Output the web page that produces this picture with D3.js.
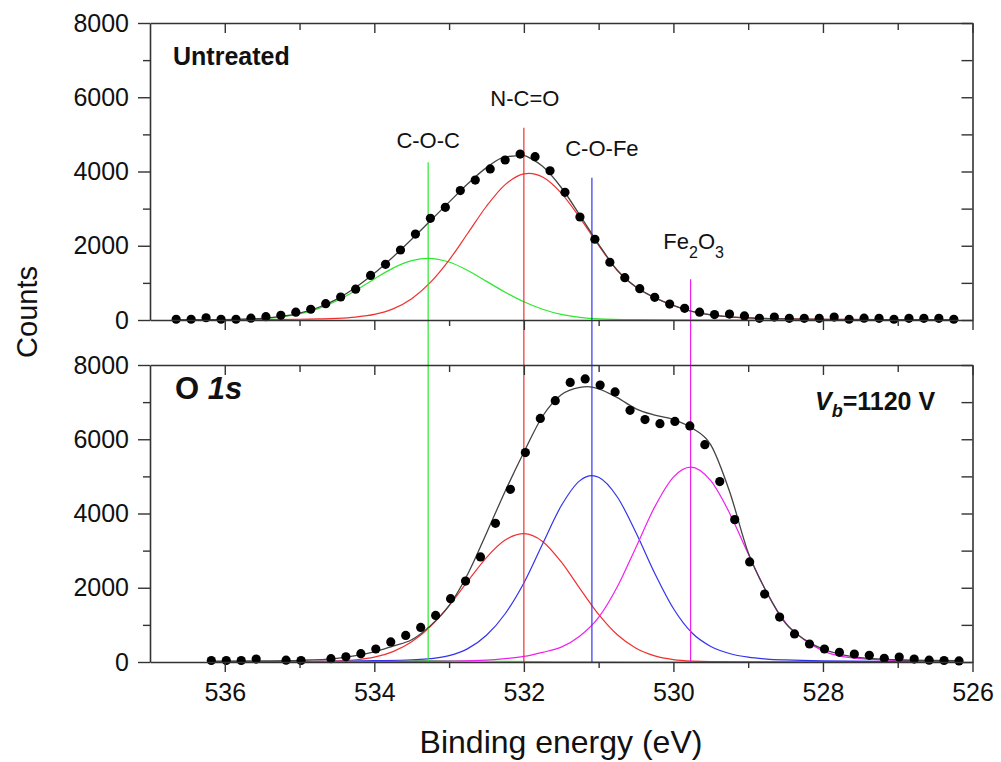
<!DOCTYPE html>
<html>
<head>
<meta charset="utf-8">
<title>O 1s XPS</title>
<style>
  body { margin: 0; background: #fff; }
  svg { display: block; font-family: "Liberation Sans", Arial, Helvetica, sans-serif; }
  .axis path, .axis line { stroke: #333; }
  .axis path { stroke-width: 1.6; }
  .axis line { stroke-width: 1.4; }
  .axis text { font-size: 25px; fill: #111; }
</style>
<script src="https://d3js.org/d3.v7.min.js"></script>
</head>
<body>
<script>
// ---- data ----
const topDotsEV = [536.65, 536.45, 536.25, 536.05, 535.85, 535.65, 535.45, 535.25, 535.05, 534.85,
  534.65, 534.45, 534.25, 534.05, 533.85, 533.65, 533.45, 533.25, 533.05, 532.85,
  532.65, 532.45, 532.25, 532.05, 531.85, 531.65, 531.45, 531.25, 531.05, 530.85,
  530.65, 530.45, 530.25, 530.05, 529.85, 529.65, 529.45, 529.25, 529.05, 528.85,
  528.65, 528.45, 528.25, 528.05, 527.85, 527.65, 527.45, 527.25, 527.05, 526.85,
  526.65, 526.45, 526.25];
const topDotsCounts = [20, 20, 60, 20, 20, 50, 90, 125, 210, 290,
  440, 620, 830, 1200, 1500, 1885, 2315, 2740, 3035, 3485,
  3770, 4070, 4310, 4470, 4400, 4020, 3440, 2775, 2175, 1555,
  1140, 845, 610, 430, 315, 210, 145, 160, 110, 45,
  80, 45, 45, 45, 80, 20, 50, 45, 20, 45,
  45, 45, 20];

const botDotsEV = [536.18, 535.98, 535.78, 535.58, 535.18, 534.98, 534.58, 534.38, 534.18, 533.98,
  533.78, 533.58, 533.38, 533.18, 532.98, 532.78, 532.58, 532.38, 532.18, 531.98,
  531.78, 531.58, 531.38, 531.18, 530.98, 530.78, 530.58, 530.38, 530.18, 529.98,
  529.78, 529.58, 529.38, 529.18, 528.98, 528.78, 528.58, 528.38, 528.18, 527.98,
  527.78, 527.58, 527.38, 527.18, 526.98, 526.78, 526.58, 526.38, 526.18];
const botDotsCounts = [40, 40, 40, 80, 50, 40, 90, 140, 225, 350,
  540, 715, 930, 1255, 1705, 2180, 2830, 3735, 4650, 5640,
  6560, 7040, 7530, 7625, 7460, 7275, 6780, 6530, 6420, 6480,
  6360, 5855, 4860, 3835, 2695, 1830, 1210, 755, 485, 350,
  260, 215, 180, 100, 135, 80, 50, 40, 30];

// fitted curves, [binding energy, counts]
const topCOC = [[536.65, 0], [536.0, 5], [535.5, 35], [535.0, 165], [534.75, 307], [534.5, 519],
  [534.25, 796], [534.0, 1107], [533.75, 1397], [533.5, 1598], [533.28, 1662], [533.0, 1561],
  [532.75, 1333], [532.5, 1040], [532.25, 750], [532.0, 490], [531.75, 290], [531.5, 150],
  [531.25, 70], [531.0, 30], [530.5, 8], [530.0, 2], [528.0, 0], [526.25, 0]];
const topNCO = [[536.65, 2], [536.0, 5], [535.5, 10], [535.0, 20], [534.75, 30], [534.5, 45],
  [534.25, 80], [534.0, 150], [533.75, 300], [533.5, 575], [533.25, 1013], [533.0, 1615],
  [532.75, 2336], [532.5, 3064], [532.25, 3646], [532.0, 3935], [531.93, 3950], [531.75, 3851],
  [531.5, 3419], [531.25, 2752], [531.0, 2010], [530.75, 1331], [530.5, 880], [530.25, 600],
  [530.0, 390], [529.75, 230], [529.5, 140], [529.25, 85], [529.0, 55], [528.5, 30],
  [528.0, 18], [527.0, 8], [526.25, 5]];
const topFit = [[536.65, 2], [536.0, 10], [535.5, 45], [535.0, 185], [534.75, 337], [534.5, 564],
  [534.25, 876], [534.0, 1257], [533.75, 1697], [533.5, 2173], [533.25, 2672], [533.0, 3176],
  [532.75, 3669], [532.5, 4104], [532.25, 4396], [532.0, 4425], [531.9, 4340], [531.75, 4141],
  [531.5, 3569], [531.25, 2822], [531.0, 2040], [530.75, 1340], [530.5, 888], [530.25, 602],
  [530.0, 392], [529.75, 230], [529.5, 140], [529.25, 85], [529.0, 55], [528.5, 30],
  [528.0, 18], [527.0, 8], [526.25, 5]];

const botCOC = [[536.18, 0], [535.0, 5], [534.25, 15], [533.3, 35], [532.5, 20], [531.5, 5],
  [530.5, 0], [526.18, 0]];
const botNCO = [[536.18, 10], [535.5, 10], [535.0, 15], [534.5, 30], [534.25, 60], [534.0, 129],
  [533.75, 279], [533.5, 544], [533.25, 957], [533.0, 1520], [532.75, 2177], [532.5, 2814],
  [532.25, 3283], [532.0, 3456], [531.75, 3248], [531.5, 2697], [531.25, 1978], [531.0, 1282],
  [530.75, 733], [530.5, 371], [530.25, 165], [530.0, 65], [529.75, 23], [529.5, 10],
  [529.0, 6], [528.0, 5], [526.18, 5]];
const botCOFe = [[536.18, 5], [535.0, 12], [534.5, 20], [534.0, 35], [533.5, 60], [533.25, 90],
  [533.0, 170], [532.75, 360], [532.5, 720], [532.25, 1300], [532.0, 2130], [531.75, 3180],
  [531.5, 4207], [531.25, 4886], [531.09, 5019], [531.0, 4976], [530.75, 4445], [530.5, 3482],
  [530.25, 2392], [530.0, 1441], [529.75, 780], [529.5, 420], [529.25, 230], [529.0, 130],
  [528.75, 80], [528.5, 55], [528.0, 30], [527.0, 15], [526.18, 10]];
const botFe2O3 = [[536.18, 5], [534.0, 10], [533.0, 25], [532.5, 50], [532.25, 90], [532.0, 150],
  [531.75, 260], [531.5, 400], [531.25, 700], [531.0, 1200], [530.75, 2025], [530.5, 3094],
  [530.25, 4178], [530.0, 4982], [529.77, 5250], [529.5, 4884], [529.25, 4015], [529.0, 2915],
  [528.75, 1871], [528.5, 1060], [528.25, 600], [528.0, 300], [527.75, 150], [527.5, 90],
  [527.0, 45], [526.5, 25], [526.18, 20]];
const botFit = [[536.18, 20], [535.5, 30], [535.0, 45], [534.5, 100], [534.25, 170], [534.0, 270],
  [533.75, 430], [533.5, 600], [533.25, 980], [533.0, 1520], [532.75, 2370], [532.5, 3470],
  [532.25, 4600], [532.0, 5650], [531.75, 6620], [531.5, 7200], [531.25, 7400], [531.15, 7420],
  [531.0, 7360], [530.75, 7120], [530.5, 6820], [530.25, 6650], [530.0, 6530], [529.75, 6300],
  [529.5, 5850], [529.25, 4600], [529.0, 2950], [528.75, 1870], [528.5, 1040], [528.25, 610],
  [528.0, 350], [527.75, 200], [527.5, 120], [527.0, 60], [526.5, 40], [526.18, 35]];

// peak markers: name, position (eV), top of marker line (counts on the upper panel scale)
const peakNames = ["C-O-C", "N-C=O", "C-O-Fe", "Fe2O3"];
const peakEV = [533.28, 532.0, 531.09, 529.77];
const peakLineTop = [4250, 5180, 3830, 1100];
const peakColors = ["#2ee82e", "#f03030", "#3333ee", "#f020f0"];

const xMajor = [536, 534, 532, 530, 528, 526];
const xMinor = [535, 533, 531, 529, 527];
const yMajor = [0, 2000, 4000, 6000, 8000];
const yMinor = [1000, 3000, 5000, 7000];

// ---- layout ----
const W = 1001, H = 762;
const svg = d3.select("body").append("svg").attr("width", W).attr("height", H);

const x = d3.scaleLinear().domain([537, 526]).range([150, 972.5]);
const yTop = d3.scaleLinear().domain([0, 8000]).range([320, 23]);
const yBot = d3.scaleLinear().domain([0, 8000]).range([662, 365]);

const layerCurves = svg.append("g");
const layerMarkers = svg.append("g");
const layerFit = svg.append("g");
const layerDots = svg.append("g");
const layerAxes = svg.append("g");

function curve(layer, y, data, color, width) {
  const line = d3.line()
    .x(d => x(d[0]))
    .y(d => y(d[1]))
    .curve(d3.curveMonotoneX);
  layer.append("path")
    .datum(data)
    .attr("d", line)
    .attr("fill", "none")
    .attr("stroke", color)
    .attr("stroke-width", width);
}

function dots(y, ev, counts) {
  layerDots.selectAll(null)
    .data(ev.map((e, i) => [e, counts[i]]))
    .enter().append("circle")
    .attr("cx", d => x(d[0]))
    .attr("cy", d => y(d[1]))
    .attr("r", 4.6)
    .attr("fill", "#000");
}

function frame(y, showLabels) {
  const g = layerAxes.append("g").attr("class", "axis");
  const top = y.range()[1], bottom = y.range()[0];
  const right = x.range()[1], left = x.range()[0];

  g.append("g").attr("transform", `translate(0,${bottom})`)
    .call(d3.axisBottom(x).tickValues(xMajor).tickSize(10).tickSizeOuter(0).tickPadding(11)
      .tickFormat(showLabels ? d3.format("d") : ""));
  g.append("g").attr("transform", `translate(0,${bottom})`)
    .call(d3.axisBottom(x).tickValues(xMinor).tickSize(6).tickFormat(""))
    .call(s => s.select(".domain").remove());

  g.append("g").attr("transform", `translate(0,${top})`)
    .call(d3.axisTop(x).tickValues(xMajor).tickSize(-10).tickSizeOuter(0).tickFormat(""));
  g.append("g").attr("transform", `translate(0,${top})`)
    .call(d3.axisTop(x).tickValues(xMinor).tickSize(-7).tickFormat(""))
    .call(s => s.select(".domain").remove());

  g.append("g").attr("transform", `translate(${left},0)`)
    .call(d3.axisLeft(y).tickValues(yMajor).tickSize(12).tickSizeOuter(0).tickPadding(9)
      .tickFormat(d3.format("d")));
  g.append("g").attr("transform", `translate(${left},0)`)
    .call(d3.axisLeft(y).tickValues(yMinor).tickSize(7).tickFormat(""))
    .call(s => s.select(".domain").remove());

  g.append("g").attr("transform", `translate(${right},0)`)
    .call(d3.axisRight(y).tickValues(yMajor.concat(yMinor)).tickSize(-11).tickSizeOuter(0).tickFormat(""));
}

// upper panel (untreated)
curve(layerCurves, yTop, topCOC, peakColors[0], 1.2);
curve(layerCurves, yTop, topNCO, peakColors[1], 1.2);
curve(layerFit, yTop, topFit, "#444", 1.3);
dots(yTop, topDotsEV, topDotsCounts);

// lower panel (Vb = 1120 V)
curve(layerCurves, yBot, botCOC, peakColors[0], 1.2);
curve(layerCurves, yBot, botNCO, peakColors[1], 1.2);
curve(layerCurves, yBot, botCOFe, peakColors[2], 1.2);
curve(layerCurves, yBot, botFe2O3, peakColors[3], 1.2);
curve(layerFit, yBot, botFit, "#444", 1.3);
dots(yBot, botDotsEV, botDotsCounts);

// peak marker lines run through both panels
peakEV.forEach((e, i) => {
  layerMarkers.append("line")
    .attr("x1", x(e)).attr("x2", x(e))
    .attr("y1", yTop(peakLineTop[i])).attr("y2", yBot(0))
    .attr("stroke", peakColors[i]).attr("stroke-width", 1.2);
});

frame(yTop, false);
frame(yBot, true);

// peak labels
const labelDx = [0, 1, 10, 3];
const labelDy = [-14, -22, -22, -30];
peakNames.forEach((name, i) => {
  const t = svg.append("text")
    .attr("x", x(peakEV[i]) + labelDx[i])
    .attr("y", yTop(peakLineTop[i]) + labelDy[i])
    .attr("text-anchor", "middle")
    .attr("font-size", 22)
    .attr("fill", "#111");
  if (name === "Fe2O3") {
    t.append("tspan").text("Fe");
    t.append("tspan").attr("dy", 9).attr("font-size", 16).text("2");
    t.append("tspan").attr("dy", -9).text("O");
    t.append("tspan").attr("dy", 9).attr("font-size", 16).text("3");
  } else {
    t.text(name);
  }
});

// panel annotations
svg.append("text").attr("x", 173).attr("y", 65)
  .attr("font-size", 25).attr("font-weight", "bold").attr("fill", "#111")
  .text("Untreated");

const o1s = svg.append("text").attr("x", 175).attr("y", 399)
  .attr("font-size", 31).attr("font-weight", "bold").attr("fill", "#111");
o1s.append("tspan").text("O ");
o1s.append("tspan").attr("font-style", "italic").text("1s");

const vb = svg.append("text").attr("x", 815).attr("y", 410)
  .attr("font-size", 25).attr("font-weight", "bold").attr("fill", "#111");
vb.append("tspan").attr("font-style", "italic").text("V");
vb.append("tspan").attr("font-style", "italic").attr("font-size", 18).attr("dy", 7).text("b");
vb.append("tspan").attr("dy", -7).text("=1120 V");

// axis titles
svg.append("text")
  .attr("transform", "translate(37,312) rotate(-90)")
  .attr("text-anchor", "middle")
  .attr("font-size", 29).attr("fill", "#111")
  .text("Counts");

svg.append("text")
  .attr("x", 561).attr("y", 753)
  .attr("text-anchor", "middle")
  .attr("font-size", 32).attr("fill", "#111")
  .text("Binding energy (eV)");
</script>
</body>
</html>
